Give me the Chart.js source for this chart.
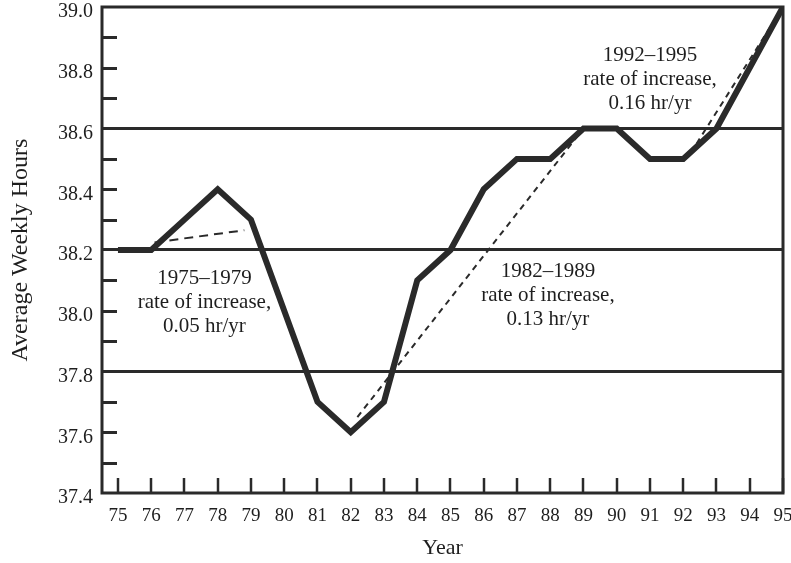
<!DOCTYPE html>
<html>
<head>
<meta charset="utf-8">
<script src="https://cdn.jsdelivr.net/npm/chart.js@4/dist/chart.umd.min.js"></script>
<style>
  html, body { margin: 0; padding: 0; background: #fff; }
  #chart { display: block; }
</style>
</head>
<body>
<canvas id="chart" width="791" height="563"></canvas>
<script>
// data
const years = [75, 76, 77, 78, 79, 80, 81, 82, 83, 84, 85, 86, 87, 88, 89, 90, 91, 92, 93, 94, 95];
const hours = [38.2, 38.2, 38.3, 38.4, 38.3, 38.0, 37.7, 37.6, 37.7, 38.1, 38.2, 38.4, 38.5, 38.5, 38.6, 38.6, 38.5, 38.5, 38.6, 38.8, 39.0];

// trend lines (start, end)
const trend1X = [76.1, 78.8];
const trend1Y = [38.225, 38.265];
const trend2X = [82.2, 89.0];
const trend2Y = [37.65, 38.6];
const trend3X = [92.4, 95.0];
const trend3Y = [38.55, 39.0];

// y axis ticks
const yTicks = [37.4, 37.5, 37.6, 37.7, 37.8, 37.9, 38.0, 38.1, 38.2, 38.3, 38.4, 38.5, 38.6, 38.7, 38.8, 38.9, 39.0];
const yLabels = [37.4, 37.6, 37.8, 38.0, 38.2, 38.4, 38.6, 38.8, 39.0];
const yGridLines = [37.8, 38.2, 38.6];

// annotations: anchor year / value and lines
const notes = [
    { x: 77.6, y: 38.105, lines: ["1975–1979", "rate of increase,", "0.05 hr/yr"] },
    { x: 87.93, y: 38.128, lines: ["1982–1989", "rate of increase,", "0.13 hr/yr"] },
    { x: 91.0, y: 38.84, lines: ["1992–1995", "rate of increase,", "0.16 hr/yr"] },
];

const INK = "#2a2a2a";
const SERIF = "'Liberation Serif', 'Times New Roman', serif";

function pts(xs, ys) {
    return xs.map((x, i) => ({ x: x, y: ys[i] }));
}

// frame, inward ticks and the text notes
const decorPlugin = {
    id: "decor",
    afterDraw(chart) {
        const ctx = chart.ctx;
        const a = chart.chartArea;
        const xs = chart.scales.x;
        const ys = chart.scales.y;
        ctx.save();
        ctx.strokeStyle = INK;

        // minor ticks on the y axis, pointing in
        ctx.lineWidth = 3;
        yTicks.forEach((v) => {
            if (yGridLines.includes(v) || v === 37.4 || v === 39.0) return;
            const py = Math.round(ys.getPixelForValue(v)) + 0.5;
            ctx.beginPath();
            ctx.moveTo(a.left, py);
            ctx.lineTo(a.left + 15, py);
            ctx.stroke();
        });

        // ticks on the x axis, pointing in
        ctx.lineWidth = 2.5;
        years.forEach((v) => {
            const px = Math.round(xs.getPixelForValue(v));
            ctx.beginPath();
            ctx.moveTo(px, a.bottom);
            ctx.lineTo(px, a.bottom - 15);
            ctx.stroke();
        });

        // frame
        ctx.lineWidth = 3;
        ctx.strokeRect(a.left, a.top, a.right - a.left, a.bottom - a.top);

        // notes
        ctx.fillStyle = "#1e1e1e";
        ctx.font = "21px " + SERIF;
        ctx.textAlign = "center";
        ctx.textBaseline = "middle";
        notes.forEach((n) => {
            const cx = xs.getPixelForValue(n.x);
            const cy = ys.getPixelForValue(n.y);
            n.lines.forEach((t, i) => ctx.fillText(t, cx, cy + i * 24));
        });
        ctx.restore();
    },
};

const ctx = document.getElementById("chart").getContext("2d");
new Chart(ctx, {
    type: "scatter",
    data: {
        datasets: [
            {
                label: "Average weekly hours",
                data: pts(years, hours),
                showLine: true,
                borderColor: INK,
                borderWidth: 6,
                borderJoinStyle: "miter",
                pointRadius: 0,
                tension: 0,
            },
            {
                label: "1975–1979 trend",
                data: pts(trend1X, trend1Y),
                showLine: true,
                borderColor: INK,
                borderWidth: 2,
                borderDash: [9, 6],
                pointRadius: 0,
            },
            {
                label: "1982–1989 trend",
                data: pts(trend2X, trend2Y),
                showLine: true,
                borderColor: INK,
                borderWidth: 2,
                borderDash: [6, 5],
                pointRadius: 0,
            },
            {
                label: "1992–1995 trend",
                data: pts(trend3X, trend3Y),
                showLine: true,
                borderColor: INK,
                borderWidth: 2,
                borderDash: [6, 5],
                pointRadius: 0,
            },
        ],
    },
    options: {
        responsive: false,
        animation: false,
        events: [],
        layout: { padding: { left: 0, top: 7, right: 8, bottom: 0 } },
        plugins: {
            legend: { display: false },
            tooltip: { enabled: false },
        },
        scales: {
            x: {
                type: "linear",
                min: 74.52,
                max: 95,
                afterBuildTicks: (s) => {
                    s.ticks = years.map((v) => ({ value: v }));
                },
                afterFit: (s) => {
                    s.height = 70;
                    s.paddingLeft = 0;
                    s.paddingRight = 0;
                },
                grid: { display: false, drawTicks: false },
                border: { display: false },
                ticks: {
                    autoSkip: false,
                    maxRotation: 0,
                    padding: 12,
                    color: "#1e1e1e",
                    font: { family: SERIF, size: 19 },
                    callback: (v) => String(v),
                },
                title: {
                    display: true,
                    text: "Year",
                    color: "#1e1e1e",
                    font: { family: SERIF, size: 22 },
                    padding: { top: 0, bottom: 2 },
                },
            },
            y: {
                type: "linear",
                min: 37.4,
                max: 39.0,
                afterBuildTicks: (s) => {
                    s.ticks = yTicks.map((v) => ({ value: v }));
                },
                afterFit: (s) => {
                    s.width = 102;
                    s.paddingTop = 0;
                    s.paddingBottom = 0;
                },
                grid: {
                    drawTicks: false,
                    lineWidth: 3,
                    color: (c) =>
                        c.tick && yGridLines.includes(c.tick.value) ? INK : "rgba(0,0,0,0)",
                },
                border: { display: false },
                ticks: {
                    autoSkip: false,
                    padding: 9,
                    labelOffset: 5,
                    color: "#1e1e1e",
                    font: { family: SERIF, size: 20 },
                    callback: (v) => (yLabels.includes(v) ? v.toFixed(1) : ""),
                },
                title: {
                    display: true,
                    text: "Average Weekly Hours",
                    color: "#1e1e1e",
                    font: { family: SERIF, size: 24 },
                    padding: { top: 6, bottom: 0 },
                },
            },
        },
    },
    plugins: [decorPlugin],
});
</script>
</body>
</html>
